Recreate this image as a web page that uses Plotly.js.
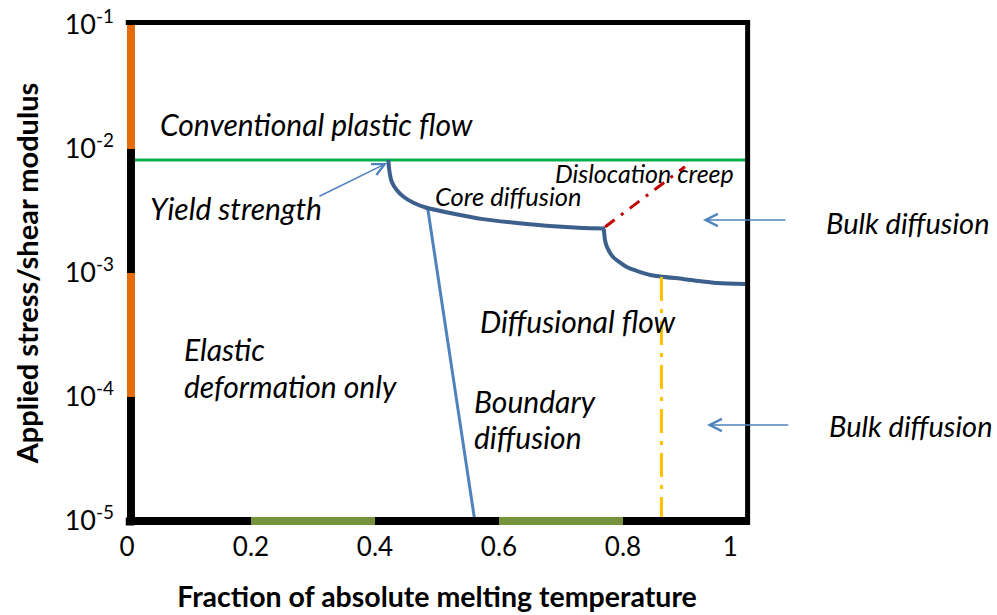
<!DOCTYPE html>
<html>
<head>
<meta charset="utf-8">
<script src="https://cdn.plot.ly/plotly-3.0.1.min.js"></script>
<style>html,body{margin:0;padding:0;background:#fff;}#chart{width:997px;height:615px;}</style>
</head>
<body>
<div id="chart"></div>
<script>
// ---- data ----
const xTickVals = [0, 0.2, 0.4, 0.6, 0.8, 0.973];
const xTickText = ['0', '0.2', '0.4', '0.6', '0.8', '1'];
const yTickVals = [1e-5, 1e-4, 1e-3, 1e-2, 1e-1];
const yTickText = ['10<sup>-5</sup>', '10<sup>-4</sup>', '10<sup>-3</sup>', '10<sup>-2</sup>', '10<sup>-1</sup>'];

const xBandEdges = [0, 0.2, 0.4, 0.6, 0.8, 1.0];
const xBandColors = ['#000000', '#77933C', '#000000', '#77933C', '#000000'];
const yBandEdges = [1e-5, 1e-4, 1e-3, 1e-2, 1e-1];
const yBandColors = ['#000000', '#E46C0A', '#000000', '#E46C0A'];

const yieldX = [0, 1];
const yieldY = [0.00815, 0.00815];

const coreX = [0.4215, 0.4230, 0.4270, 0.4350, 0.4460, 0.4620, 0.4830, 0.5210, 0.5740, 0.6290, 0.6820, 0.7350, 0.7710];
const coreY = [0.00815, 0.00678, 0.00544, 0.00467, 0.00412, 0.00369, 0.00336, 0.00305, 0.00272, 0.00253, 0.00239, 0.00231, 0.00229];

const bulkX = [0.7690, 0.7710, 0.7740, 0.7840, 0.8060, 0.8440, 0.8970, 0.9520, 0.9970];
const bulkY = [0.002265, 0.001845, 0.001629, 0.001346, 0.001117, 0.000964, 0.000895, 0.000830, 0.000815];

const boundaryX = [0.485, 0.561];
const boundaryY = [0.003327, 1e-5];

const dislocX = [0.771, 0.900];
const dislocY = [0.00235, 0.00719];

const latticeX = [0.862, 0.862];
const latticeY = [0.000929, 1e-5];

// arrows: [tipX, tipY, tailX, tailY]
const arrows = [[0.4194, 0.00771, 0.308, 0.0041], [0.929, 0.002673, 1.0645, 0.002673], [0.9355, 0.0000594, 1.069, 0.0000594]];

// labels: text, x (left), y (middle), size
const labels = [
  ['Conventional plastic flow', 0.0500, 0.01592, 30],
  ['Yield strength', 0.0339, 0.003344, 30],
  ['Core diffusion', 0.4935, 0.004178, 25.5],
  ['Dislocation creep', 0.6871, 0.006397, 25],
  ['Diffusional flow', 0.5661, 0.000410, 30],
  ['Elastic', 0.0887, 0.0002438, 30],
  ['deformation only', 0.0887, 0.0001227, 30],
  ['Boundary', 0.5565, 0.0000929, 30],
  ['diffusion', 0.5565, 0.0000475, 30],
  ['Bulk diffusion', 1.124, 0.002576, 29],
  ['Bulk diffusion', 1.129, 0.0000594, 29]
];

// ---- build ----
const FONT = 'Lato, "Open Sans", sans-serif';
const L10 = Math.log10;

const traces = [
  {x: yieldX, y: yieldY, mode: 'lines', line: {color: '#00B050', width: 3}, hoverinfo: 'skip'},
  {x: boundaryX, y: boundaryY, mode: 'lines', line: {color: '#4F81BD', width: 3}, hoverinfo: 'skip'},
  {x: coreX, y: coreY, mode: 'lines', line: {color: '#3C5F8C', width: 4, shape: 'spline', smoothing: 0.6}, hoverinfo: 'skip'},
  {x: bulkX, y: bulkY, mode: 'lines', line: {color: '#3C5F8C', width: 4, shape: 'spline', smoothing: 0.6}, hoverinfo: 'skip'},
  {x: dislocX, y: dislocY, mode: 'lines', line: {color: '#C00000', width: 3, dash: '12px,8px,3px,8px'}, hoverinfo: 'skip'},
  {x: latticeX, y: latticeY, mode: 'lines', line: {color: '#FFC000', width: 3, dash: '24px,8px,4px,8px'}, hoverinfo: 'skip'}
];
// left axis coloured bands
for (let i = 0; i < yBandColors.length; i++) {
  traces.push({x: [0.0056, 0.0056], y: [yBandEdges[i], yBandEdges[i + 1]], mode: 'lines', cliponaxis: false,
    line: {color: yBandColors[i], width: 9}, hoverinfo: 'skip'});
}

const shapes = [];
for (let i = 0; i < xBandColors.length; i++) {
  shapes.push({type: 'line', xref: 'x', yref: 'paper', x0: xBandEdges[i], x1: xBandEdges[i + 1], y0: 0, y1: 0,
    line: {color: xBandColors[i], width: 8}, layer: 'above'});
}
// frame top/right
shapes.push({type: 'line', xref: 'paper', yref: 'paper', x0: -0.002, x1: 1.005, y0: 1.005, y1: 1.005, line: {color: '#000', width: 5}, layer: 'above'});
shapes.push({type: 'line', xref: 'paper', yref: 'paper', x0: 1.001, x1: 1.001, y0: -0.008, y1: 1.005, line: {color: '#000', width: 5}, layer: 'above'});
shapes.push({type: 'line', xref: 'paper', yref: 'paper', x0: -0.002, x1: 0.012, y0: -0.001, y1: -0.001, line: {color: '#000', width: 8}, layer: 'above'});

const annotations = [];
labels.forEach(l => {
  annotations.push({text: l[0], x: l[1], y: L10(l[2]), xref: l[1] > 1 ? 'paper' : 'x', yref: 'y',
    xanchor: 'left', yanchor: 'middle', showarrow: false,
    font: {family: FONT, size: l[3], color: '#000', style: 'italic'}});
});
arrows.forEach(a => {
  annotations.push({text: '', x: a[0], y: L10(a[1]), ax: a[2], ay: L10(a[3]), xref: 'x', yref: 'y', axref: 'x', ayref: 'y',
    showarrow: true, arrowhead: 5, arrowsize: 1.6, arrowwidth: 1.5, arrowcolor: '#4F81BD', standoff: 0});
});

const layout = {
  width: 997, height: 615, autosize: false,
  margin: {l: 127, r: 250, t: 25, b: 94},
  paper_bgcolor: '#fff', plot_bgcolor: '#fff',
  showlegend: false,
  xaxis: {range: [0, 1], tickvals: xTickVals, ticktext: xTickText, showgrid: false, zeroline: false, showline: false,
    ticks: '', ticklabelstandoff: 8, tickfont: {family: FONT, size: 26, color: '#000'},
    title: {text: '<b>Fraction of absolute melting temperature</b>', font: {family: FONT, size: 28.5, color: '#000'}, standoff: 26}},
  yaxis: {type: 'log', range: [-5, -1], tickvals: yTickVals, ticktext: yTickText, showgrid: false, zeroline: false, showline: false,
    ticks: '', ticklabelstandoff: 12, tickfont: {family: FONT, size: 27, color: '#000'},
    title: {text: '<b>Applied stress/shear modulus</b>', font: {family: FONT, size: 29, color: '#000'}, standoff: 17}},
  shapes: shapes,
  annotations: annotations
};

Plotly.newPlot('chart', traces, layout, {displayModeBar: false, staticPlot: true});
</script>
</body>
</html>
